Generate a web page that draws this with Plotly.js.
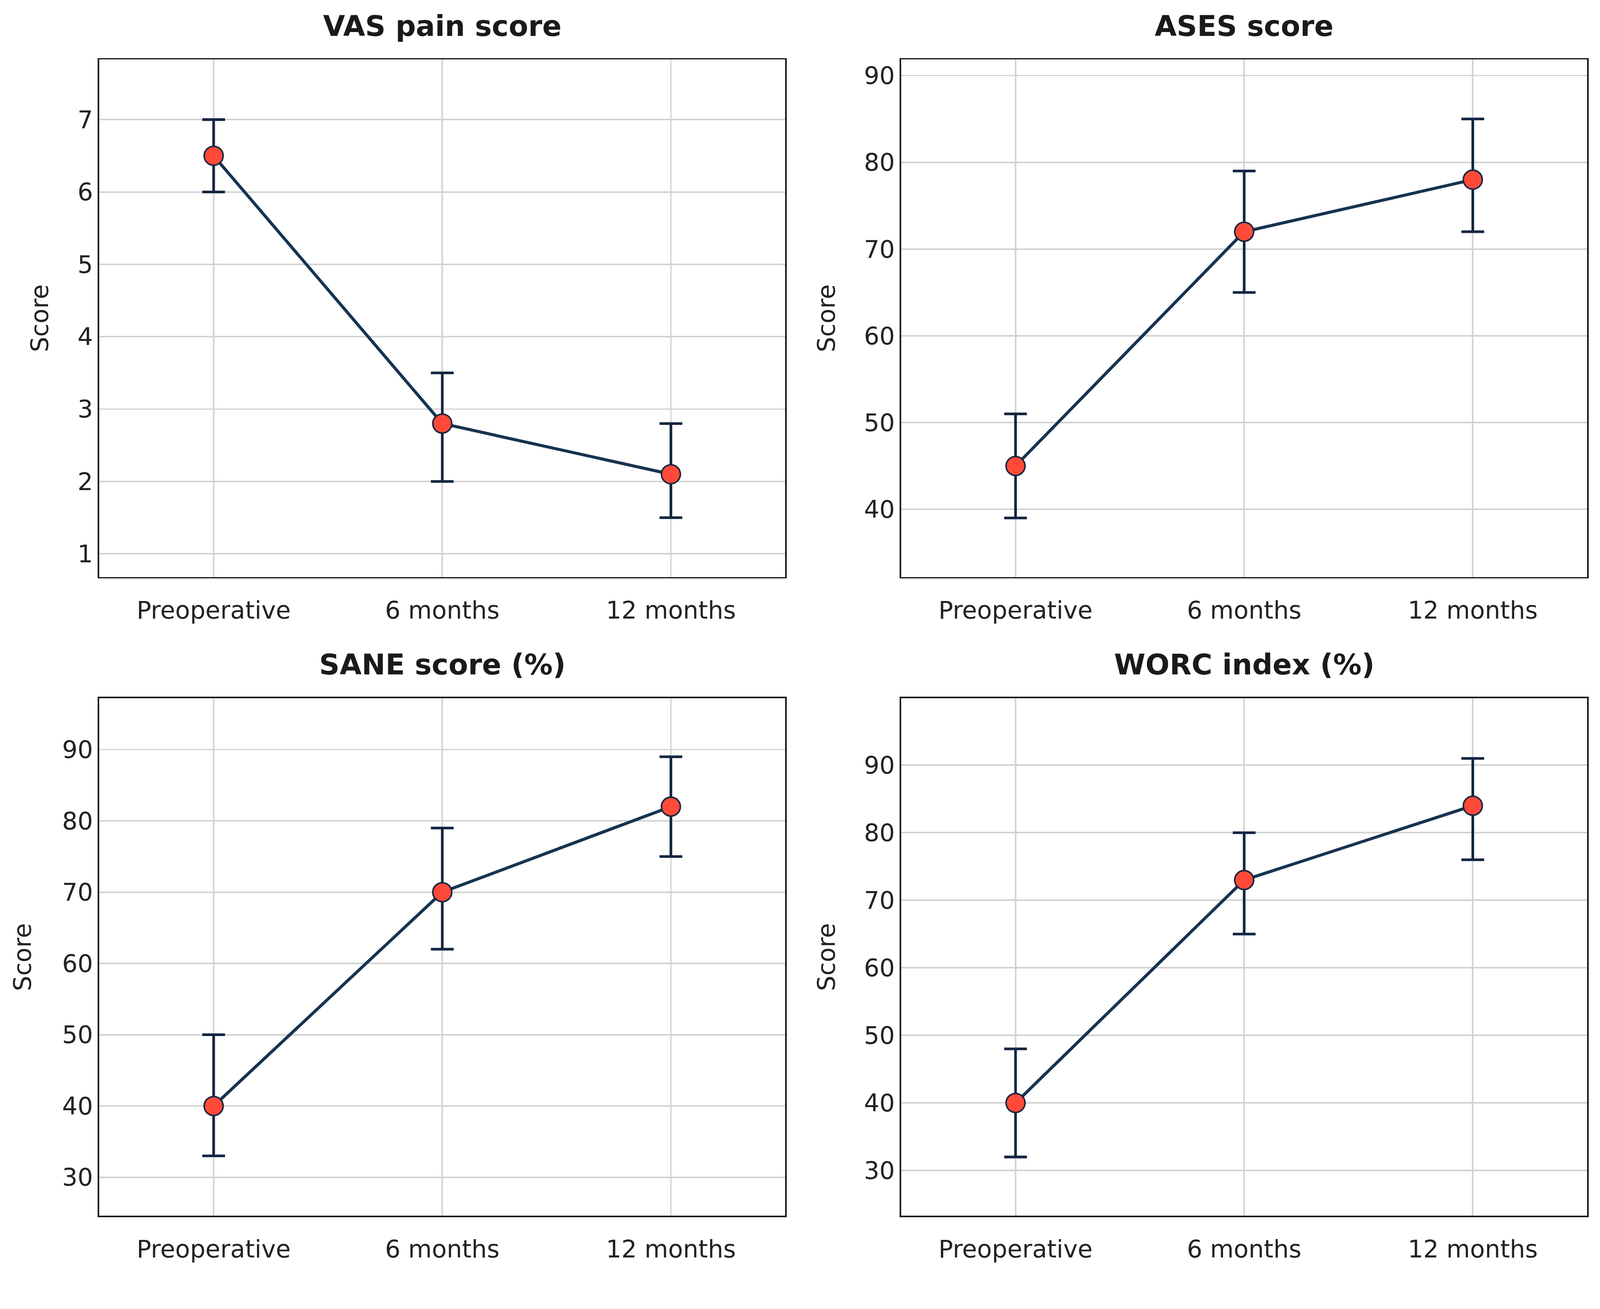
<!DOCTYPE html>
<html>
<head>
<meta charset="utf-8">
<script src="https://cdn.plot.ly/plotly-3.0.1.min.js"></script>
<style>
  html, body { margin: 0; padding: 0; background: #ffffff; overflow: hidden; }
</style>
</head>
<body>
<div id="chart"></div>
<script>
// follow-up time points
var timepoints = ['Preoperative', '6 months', '12 months'];

// VAS pain score
var vasMean = [6.5, 2.8, 2.1];
var vasLow = [6.0, 2.0, 1.5];
var vasHigh = [7.0, 3.5, 2.8];

// ASES score
var asesMean = [45, 72, 78];
var asesLow = [39, 65, 72];
var asesHigh = [51, 79, 85];

// SANE score (%)
var saneMean = [40, 70, 82];
var saneLow = [33, 62, 75];
var saneHigh = [50, 79, 89];

// WORC index (%)
var worcMean = [40, 73, 84];
var worcLow = [32, 65, 76];
var worcHigh = [48, 80, 91];

var panelTitles = ['VAS pain score', 'ASES score', 'SANE score (%)', 'WORC index (%)'];
var yLabel = 'Score';

// design size is 4220x3352; scale to whatever the viewport really is
var baseW = 4220, baseH = 3352;
var s = Math.min(window.innerWidth / baseW, window.innerHeight / baseH);
var W = baseW * s, H = baseH * s;
document.getElementById('chart').style.width = W + 'px';
document.getElementById('chart').style.height = H + 'px';

var lineColor = '#163350';
var errColor = '#132540';
var dotColor = '#ff4a38';

function makeTrace(mean, low, high, ax) {
  var plus = [], minus = [];
  for (var i = 0; i < mean.length; i++) {
    plus.push(high[i] - mean[i]);
    minus.push(mean[i] - low[i]);
  }
  return {
    type: 'scatter',
    mode: 'lines+markers',
    x: timepoints,
    y: mean,
    xaxis: 'x' + ax,
    yaxis: 'y' + ax,
    line: { color: lineColor, width: 8 * s },
    marker: { size: 50 * s, color: dotColor, line: { color: errColor, width: 4 * s } },
    error_y: {
      type: 'data',
      symmetric: false,
      array: plus,
      arrayminus: minus,
      color: errColor,
      thickness: 7 * s,
      width: 30 * s
    },
    showlegend: false,
    cliponaxis: false
  };
}

var data = [
  makeTrace(vasMean, vasLow, vasHigh, ''),
  makeTrace(asesMean, asesLow, asesHigh, '2'),
  makeTrace(saneMean, saneLow, saneHigh, '3'),
  makeTrace(worcMean, worcLow, worcHigh, '4')
];

// panel boxes in design pixels [left, right, top, bottom]
var boxes = [
  [262, 2071, 157, 1522],
  [2377, 4186, 157, 1522],
  [262, 2071, 1842, 3207],
  [2377, 4186, 1842, 3207]
];
var yRanges = [[0.68, 7.83], [32.2, 91.85], [24.6, 97.2], [23.3, 99.9]];
var yTicks = [[1, 2, 3, 4, 5, 6, 7], [40, 50, 60, 70, 80, 90], [30, 40, 50, 60, 70, 80, 90], [30, 40, 50, 60, 70, 80, 90]];
var scoreX = [105, 2180, 59, 2180];

var tickFont = { family: 'DejaVu Sans', size: 64 * s, color: '#222222' };

var layout = {
  width: W,
  height: H,
  margin: { l: 0, r: 0, t: 0, b: 0 },
  paper_bgcolor: '#ffffff',
  plot_bgcolor: '#ffffff',
  font: { family: 'DejaVu Sans', color: '#222222' },
  annotations: []
};

for (var k = 0; k < 4; k++) {
  var b = boxes[k];
  var suffix = k === 0 ? '' : String(k + 1);
  layout['xaxis' + suffix] = {
    domain: [b[0] / baseW, b[1] / baseW],
    anchor: 'y' + suffix,
    type: 'category',
    range: [-0.5, 2.5],
    showgrid: true,
    gridcolor: '#d2d2d2',
    gridwidth: 4 * s,
    showline: true,
    mirror: true,
    linecolor: '#111111',
    linewidth: 4 * s,
    // invisible ticks just push the labels down
    ticks: 'outside',
    ticklen: 29 * s,
    tickcolor: 'rgba(0,0,0,0)',
    tickfont: tickFont,
    zeroline: false,
    fixedrange: true
  };
  layout['yaxis' + suffix] = {
    domain: [1 - b[3] / baseH, 1 - b[2] / baseH],
    anchor: 'x' + suffix,
    range: yRanges[k],
    tickmode: 'array',
    tickvals: yTicks[k],
    showgrid: true,
    gridcolor: '#d2d2d2',
    gridwidth: 4 * s,
    showline: true,
    mirror: true,
    linecolor: '#111111',
    linewidth: 4 * s,
    ticks: '',
    ticklabelstandoff: 40 * s,
    tickfont: tickFont,
    zeroline: false,
    fixedrange: true
  };
  // panel title
  layout.annotations.push({
    text: '<b>' + panelTitles[k] + '</b>',
    xref: 'paper', yref: 'paper',
    x: (b[0] + b[1]) / 2 / baseW,
    y: 1 - (b[2] - 89) / baseH,
    xanchor: 'center', yanchor: 'middle',
    showarrow: false,
    font: { family: 'DejaVu Sans', size: 75 * s, color: '#1a1a1a' }
  });
  // y axis label
  layout.annotations.push({
    text: yLabel,
    xref: 'paper', yref: 'paper',
    x: scoreX[k] / baseW,
    y: 1 - (b[2] + b[3]) / 2 / baseH,
    xanchor: 'center', yanchor: 'middle',
    textangle: -90,
    showarrow: false,
    font: { family: 'DejaVu Sans', size: 64 * s, color: '#222222' }
  });
}

Plotly.newPlot('chart', data, layout, { staticPlot: true });
</script>
</body>
</html>
